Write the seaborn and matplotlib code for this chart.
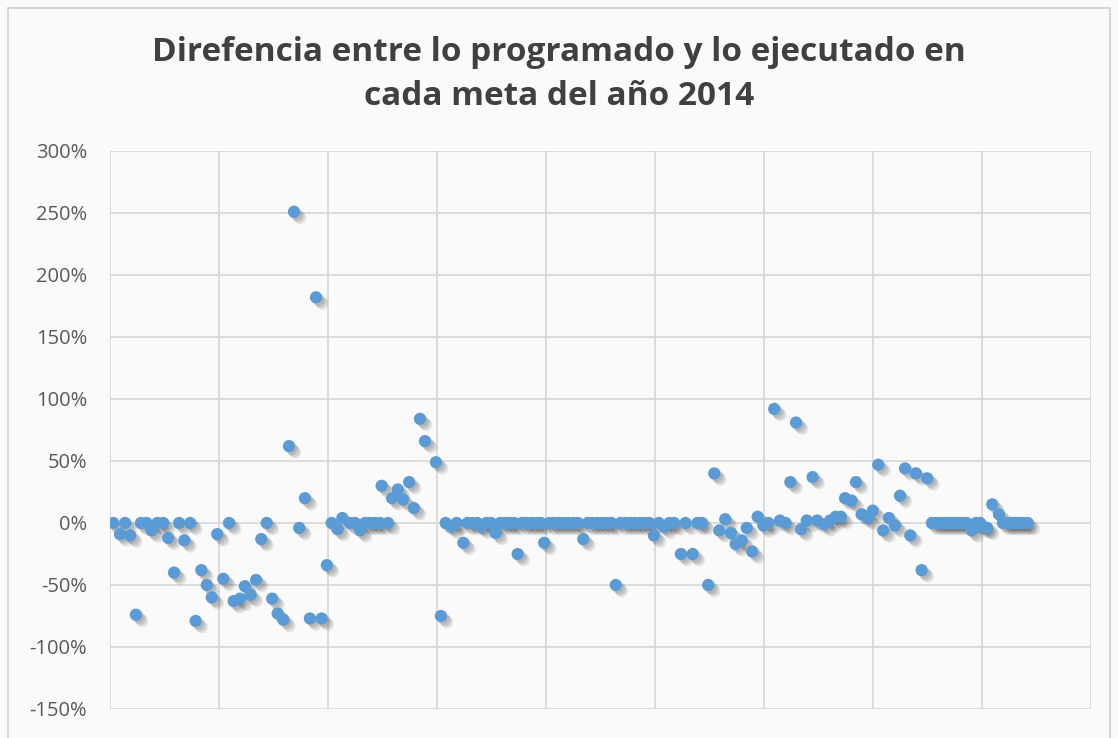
import numpy as np
import pandas as pd
import matplotlib
matplotlib.use("Agg")
import matplotlib.pyplot as plt
import matplotlib.patheffects as pe
from matplotlib.ticker import FuncFormatter, MultipleLocator
import seaborn as sns

# Número de meta (posición en el eje X) y diferencia programado vs ejecutado (%)
metas_1 = [1.5, 4.6, 6.9, 9.2, 11.9, 14.2, 16.8, 19.1, 21.7, 24.4, 26.7, 29.4, 31.7, 34.1,
           36.8, 39.3, 41.9, 44.4, 46.7, 49.2, 52.0, 54.6, 56.7, 59.6, 61.9, 64.5, 67.0,
           69.4, 71.9, 74.4, 76.9, 79.5, 82.1, 84.4, 86.8, 89.4, 91.7, 94.5, 97.1, 99.5]
dif_1 = [0, -9, 0, -10, -74, 0, 0, -6, 0, 0, -12, -40, 0, -14,
         0, -79, -38, -50, -60, -9, -45, 0, -63, -61, -51, -58, -46,
         -13, 0, -61, -73, -78, 62, 251, -4, 20, -77, 182, -77, -34]

metas_2 = [101.7, 104.4, 106.6, 110.1, 112.4, 114.7, 117.0, 119.3, 121.6, 123.9, 127.5,
           124.6, 129.4, 132.0, 134.5, 137.2, 139.4, 142.2, 144.5, 149.5, 151.8]
dif_2 = [0, -5, 4, 0, 0, -6, 0, 0, 0, 0, 0,
         30, 20, 27, 19, 33, 12, 84, 66, 49, -75]

metas_3 = [154.0, 156.7, 159.0, 162.1, 164.0, 166.3, 168.5, 170.5, 172.7, 174.8, 176.9,
           179.0, 181.2, 183.4, 185.4, 187.0, 189.0, 191.2, 193.4, 195.6, 197.6, 199.2,
           201.4, 203.6, 205.8, 208.0, 210.2, 212.4, 214.6, 217.1, 219.2, 221.4, 223.6,
           225.8, 228.0, 230.0, 232.0, 234.2, 236.4, 238.6, 240.8, 243.0, 245.2, 247.4,
           249.5, 251.8, 254.3, 256.6, 258.8, 261.9, 264.0, 267.3, 269.5, 271.6, 274.4]
dif_3 = [0, -3, 0, -16, 0, 0, 0, -3, 0, 0, -8,
         0, 0, 0, 0, -25, 0, 0, 0, 0, 0, -16,
         0, 0, 0, 0, 0, 0, 0, -13, 0, 0, 0,
         0, 0, 0, -50, 0, 0, 0, 0, 0, 0, 0,
         -10, 0, -3, 0, 0, -25, 0, -25, 0, 0, -50]

metas_4 = [277.2, 279.5, 282.2, 284.9, 287.0, 289.8, 292.1, 294.6, 297.1, 299.7, 302.0,
           304.7, 307.3, 309.9, 312.1, 314.7, 317.0, 319.6, 322.3, 324.4, 327.7, 330.3,
           332.9, 335.3, 337.2, 340.2, 342.2, 344.8, 347.6, 349.9, 352.4, 354.7, 357.3,
           360.1, 362.4, 364.7, 367.1, 369.7, 372.3, 374.9]
dif_4 = [40, -6, 3, -8, -17, -14, -4, -23, 5, -2, 0,
         92, 2, 0, 33, 81, -5, 2, 37, 2, -1, 2,
         5, 5, 20, 18, 33, 7, 4, 10, 47, -6, 4,
         -2, 22, 44, -10, 40, -38, 36]

metas_5 = [377.0, 379.0, 381.0, 383.0, 385.0, 387.0, 389.0, 391.0, 393.0, 395.3, 397.2,
           399.1, 400.5, 402.4, 404.7, 407.8, 409.6, 411.5, 413.4, 415.3, 417.2, 419.1, 421.0]
dif_5 = [0, 0, 0, 0, 0, 0, 0, 0, 0, -6, 0,
         0, -3, -4, 15, 7, 0, 0, 0, 0, 0, 0, 0]

df = pd.DataFrame({
    "meta": metas_1 + metas_2 + metas_3 + metas_4 + metas_5,
    "diferencia": dif_1 + dif_2 + dif_3 + dif_4 + dif_5,
})
df["diferencia"] = df["diferencia"] / 100

sns.set_style("whitegrid")
plt.rcParams["font.family"] = ["Open Sans", "DejaVu Sans"]

fig = plt.figure(figsize=(11.18, 7.38), dpi=100)
fig.patch.set_facecolor("#fafafa")
ax = fig.add_axes([110 / 1118, 29 / 738, 981 / 1118, 558 / 738])
ax.set_facecolor("none")

# Marcadores azules con sombra difusa, estilo Excel
sns.scatterplot(data=df, x="meta", y="diferencia", ax=ax, color="#5B9BD5",
                s=78, edgecolor="none", zorder=3)
sombra = [pe.SimplePatchShadow(offset=(d, -d), shadow_rgbFace="#444444", alpha=0.11)
          for d in (1.5, 2.5, 3.5, 4.5)]
for coll in ax.collections:
    coll.set_path_effects(sombra + [pe.Normal()])

ax.set_xlim(0, 450)
ax.set_ylim(-1.5, 3.0)
ax.xaxis.set_major_locator(MultipleLocator(50))
ax.yaxis.set_major_locator(MultipleLocator(0.5))
ax.yaxis.set_major_formatter(FuncFormatter(lambda v, p: f"{v * 100:.0f}%"))
ax.set_xticklabels([])
ax.tick_params(axis="y", labelsize=14.5, colors="#595959", length=0, pad=16.5)
ax.tick_params(axis="x", length=0)
ax.grid(True, color="#d9d9d9", linewidth=1.3)
for s in ax.spines.values():
    s.set_visible(False)
ax.set_xlabel("")
ax.set_ylabel("")

fig.suptitle("Direfencia entre lo programado y lo ejecutado en\ncada meta del año 2014",
             x=0.5, y=1 - 36 / 738, va="top", fontsize=24, fontweight="bold",
             color="#404040", linespacing=1.45)

# Borde exterior del gráfico
fig.add_artist(plt.Line2D([8 / 1118, 8 / 1118], [0, 1 - 8 / 738], color="#d0d0d0", lw=1.2))
fig.add_artist(plt.Line2D([8 / 1118, 1110 / 1118], [1 - 8 / 738, 1 - 8 / 738], color="#d0d0d0", lw=1.2))
fig.add_artist(plt.Line2D([1110 / 1118, 1110 / 1118], [0, 1 - 8 / 738], color="#d0d0d0", lw=1.2))

fig.savefig("out.png", dpi=100, facecolor=fig.get_facecolor())
